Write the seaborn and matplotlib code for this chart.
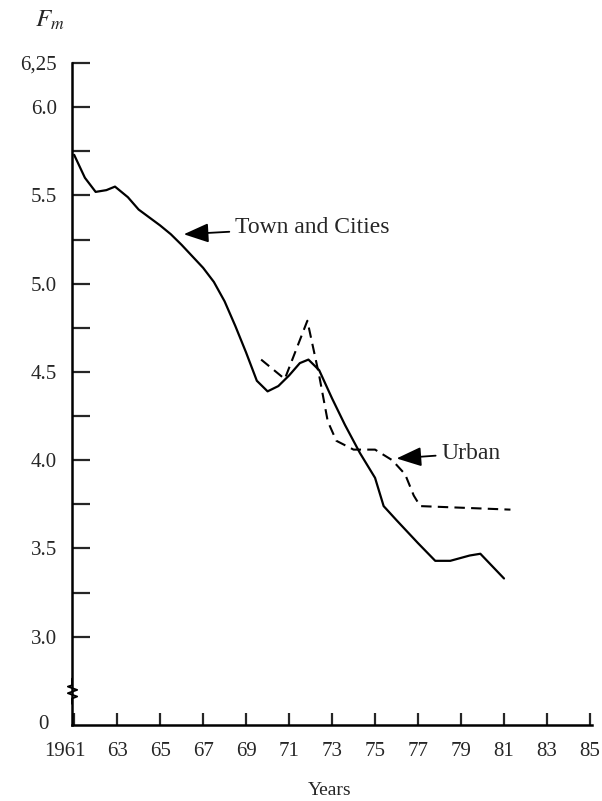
import pandas as pd
import numpy as np
import matplotlib.pyplot as plt
import matplotlib.transforms as mtransforms
import seaborn as sns

# values (fertility, F_m)
town_years = [1961.0, 1961.5, 1962.0, 1962.5, 1962.9, 1963.5, 1964.0, 1965.0, 1965.5,
              1966.0, 1967.0, 1967.5, 1968.0, 1968.5, 1969.0, 1969.5, 1970.0, 1970.5,
              1971.0, 1971.5, 1971.9, 1972.4, 1973.0, 1973.6, 1974.3, 1975.0, 1975.4,
              1976.0, 1977.0, 1977.8, 1978.5, 1979.4, 1979.9, 1981.0]
town_values = [5.73, 5.60, 5.52, 5.53, 5.55, 5.49, 5.42, 5.33, 5.28,
               5.22, 5.09, 5.01, 4.90, 4.76, 4.61, 4.45, 4.39, 4.42,
               4.48, 4.55, 4.57, 4.51, 4.35, 4.20, 4.04, 3.90, 3.74,
               3.66, 3.53, 3.43, 3.43, 3.46, 3.47, 3.33]

urban_years = [1969.7, 1970.8, 1971.85, 1972.4, 1972.8, 1973.2, 1974.0, 1975.0,
               1975.8, 1976.4, 1976.8, 1977.1, 1981.3]
urban_values = [4.57, 4.46, 4.79, 4.48, 4.22, 4.11, 4.06, 4.06,
                4.00, 3.92, 3.80, 3.74, 3.72]

xtick_years = list(range(1961, 1986, 2))
xtick_labels = ["1961"] + [str(y)[2:] for y in xtick_years[1:]]
ytick_pos = [3.0, 3.25, 3.5, 3.75, 4.0, 4.25, 4.5, 4.75, 5.0, 5.25, 5.5, 5.75, 6.0, 6.25]
ytick_labels = ["3.0", "", "3.5", "", "4.0", "", "4.5", "", "5.0", "", "5.5", "", "6.0", "6,25"]

town = pd.DataFrame({"year": town_years, "value": town_values})
urban = pd.DataFrame({"year": urban_years, "value": urban_values})

sns.set_style("white")
plt.rcParams['font.family'] = ['Liberation Serif', 'DejaVu Serif']
plt.rcParams['mathtext.fontset'] = 'stix'

fig = plt.figure(figsize=(6.02, 8.01), dpi=100)
ax = fig.add_axes([0.1196, 0.0949, 0.864, 0.8264])

sns.lineplot(data=town, x="year", y="value", color="black", linewidth=1.6, ax=ax,
             sort=False, estimator=None)
sns.lineplot(data=urban, x="year", y="value", color="black", linewidth=1.5, ax=ax,
             sort=False, estimator=None)
ax.lines[-1].set_dashes([5, 3])
for ln in ax.lines:
    ln.set_solid_joinstyle("round")

ax.set_xlim(1960.9, 1985.1)
ax.set_ylim(2.5, 6.25)
ax.set_xticks(xtick_years)
ax.set_xticklabels(xtick_labels)
ax.set_yticks(ytick_pos)
ax.set_yticklabels(ytick_labels)
ax.tick_params(axis="x", bottom=True, direction="in", length=9, width=1.6,
               pad=12, labelsize=15)
ax.tick_params(axis="y", left=True, direction="in", length=13, width=1.6,
               pad=11, labelsize=15)
# nudge "1961" a little to the left, as in the original
first = ax.xaxis.get_major_ticks()[0].label1
first.set_transform(first.get_transform()
                    + mtransforms.ScaledTranslation(-0.09, 0, fig.dpi_scale_trans))
ax.set_xlabel("")
ax.set_ylabel("")
sns.despine(ax=ax)
for side in ["left", "bottom"]:
    ax.spines[side].set_linewidth(1.8)
    ax.spines[side].set_color("black")

# "0" at the foot of the broken axis
blend = mtransforms.blended_transform_factory(ax.transAxes, ax.transData)
ax.text(-0.055, 2.5, "0", fontsize=15, ha="center", va="center", transform=blend)

# axis break mark
zig_x = [0.0, 0.0, -0.008, 0.010, -0.008, 0.010, 0.0, 0.0]
zig_y = [0.070, 0.060, 0.058, 0.053, 0.048, 0.043, 0.040, 0.032]
ax.plot(zig_x, zig_y, color="black", linewidth=1.3, transform=ax.transAxes, clip_on=False)

arrow = dict(arrowstyle="-|>,head_length=0.9,head_width=0.35",
             color="black", lw=1.3, shrinkA=2, shrinkB=0)
ax.annotate("Town and Cities", xy=(1966.1, 5.28), xytext=(1968.5, 5.32),
            fontsize=17, va="center", ha="left", arrowprops=arrow)
ax.annotate("Urban", xy=(1976.0, 4.01), xytext=(1978.1, 4.04),
            fontsize=17, va="center", ha="left", arrowprops=arrow)

fig.text(0.083, 0.975, r"$F_m$", fontsize=18, ha="center", va="center")
fig.text(0.548, 0.013, "Years", fontsize=14, ha="center", va="center")

fig.savefig("out.png", dpi=100, facecolor="white")
